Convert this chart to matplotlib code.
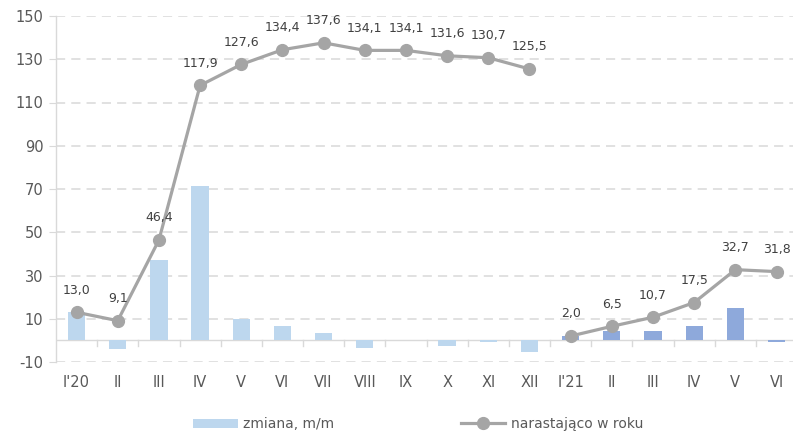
import matplotlib
matplotlib.use("Agg")
import matplotlib.pyplot as plt
from matplotlib.lines import Line2D
from matplotlib.patches import Patch
import numpy as np

plt.rcParams['font.family'] = ['DejaVu Sans']

categories = ["I'20", "II", "III", "IV", "V", "VI", "VII", "VIII", "IX", "X", "XI", "XII",
              "I'21", "II", "III", "IV", "V", "VI"]
monthly_change = [13.0, -3.9, 37.3, 71.5, 9.7, 6.8, 3.2, -3.5, 0.0, -2.5, -0.9, -5.2,
                  2.0, 4.5, 4.2, 6.8, 15.2, -0.9]
cumulative = [13.0, 9.1, 46.4, 117.9, 127.6, 134.4, 137.6, 134.1, 134.1, 131.6, 130.7, 125.5,
              2.0, 6.5, 10.7, 17.5, 32.7, 31.8]
yticks = [-10, 10, 30, 50, 70, 90, 110, 130, 150]

n20 = 12
x = np.arange(len(categories))

fig = plt.figure(figsize=(7.93, 4.34), dpi=100)
ax = fig.add_axes([56 / 793, 1 - 362 / 434, (793 - 56) / 793, (362 - 16) / 434])

bar_colors = ['#BDD7EE'] * n20 + ['#8EA9DB'] * (len(categories) - n20)
ax.bar(x, monthly_change, width=0.42, color=bar_colors, zorder=2)

line_kw = dict(color='#A5A5A5', lw=2.3, marker='o', markersize=8.5, zorder=3)
ax.plot(x[:n20], cumulative[:n20], **line_kw)
ax.plot(x[n20:], cumulative[n20:], **line_kw)

for xi, v in zip(x, cumulative):
    ax.annotate(f"{v:.1f}".replace('.', ','), (xi, v), xytext=(0, 16),
                textcoords='offset points', ha='center', va='center',
                fontsize=9, color='#404040', zorder=4)

ax.set_ylim(-10, 150)
ax.set_xlim(-0.5, 17.4)
ax.set_yticks(yticks)
ax.set_yticklabels([str(t) for t in yticks], fontsize=10.5, color='#595959')
ax.yaxis.grid(True, color='#D9D9D9', linestyle=(0, (6, 4)), lw=1.1, zorder=0)
ax.tick_params(axis='y', length=5, color='#D9D9D9', pad=4)

for s in ['top', 'right', 'bottom']:
    ax.spines[s].set_visible(False)
ax.spines['left'].set_color('#D9D9D9')
ax.spines['left'].set_linewidth(1.0)

# category axis drawn along zero with tick marks between categories
ax.axhline(0, color='#D9D9D9', lw=1.0, zorder=1)
ax.set_xticks(x)
ax.set_xticklabels([])
ax.tick_params(axis='x', length=0)
for b in np.arange(0.5, len(categories) - 0.5, 1.0):
    ax.plot([b, b], [0, -2.8], color='#D9D9D9', lw=1.0, zorder=1, clip_on=False)
for xi, lab in zip(x, categories):
    ax.text(xi, -19.5, lab, ha='center', va='center', fontsize=10.5, color='#595959',
            clip_on=False)

handles = [Patch(facecolor='#BDD7EE', edgecolor='none'),
           Line2D([0], [0], color='#A5A5A5', lw=2.3, marker='o', markersize=8.5)]
fig.legend(handles, ['zmiana, m/m', 'narastająco w roku'], loc='center',
           bbox_to_anchor=(418 / 793, 1 - 424 / 434), ncol=2, frameon=False,
           fontsize=10, labelcolor='#595959', handlelength=3.2, columnspacing=9.1,
           handletextpad=0.4, handleheight=0.6)

fig.savefig('out.png', dpi=100)
